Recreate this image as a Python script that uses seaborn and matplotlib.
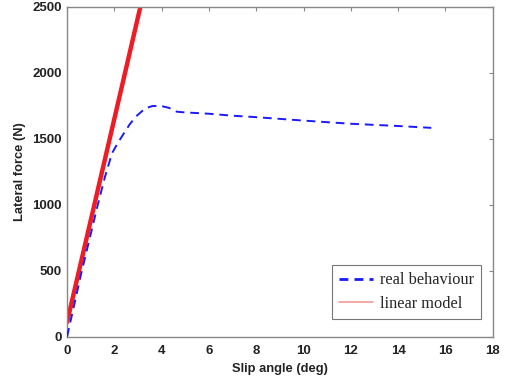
import matplotlib
matplotlib.use("Agg")
import matplotlib.pyplot as plt
import seaborn as sns
import pandas as pd
from matplotlib.lines import Line2D

# Data
real_slip = [0, 0.6, 1.3, 1.6, 1.9, 2.15, 2.4, 2.65, 2.9, 3.3, 3.6, 3.95, 4.3,
             4.65, 5.0, 6.0, 7.0, 8.0, 10.0, 12.0, 14.0, 15.4]
real_force = [0, 480, 1000, 1210, 1390, 1470, 1541, 1610, 1667, 1730, 1748,
              1750, 1735, 1705, 1700, 1690, 1675, 1664, 1638, 1614, 1597, 1583]
lin_slip = [0, 3.1]
lin_force = [110, 2500]

x_ticks = [0, 2, 4, 6, 8, 10, 12, 14, 16, 18]
y_ticks = [0, 500, 1000, 1500, 2000, 2500]
legend_labels = ["real behaviour", "linear model"]

sns.set_style("white")
plt.rcParams['font.family'] = ['Liberation Sans', 'DejaVu Sans']

fig = plt.figure(figsize=(5.08, 3.83), dpi=100)
ax = fig.add_axes([0.132, 0.121, 0.838, 0.861])

df_real = pd.DataFrame({"slip": real_slip, "force": real_force})
df_lin = pd.DataFrame({"slip": lin_slip, "force": lin_force})

sns.lineplot(data=df_lin, x="slip", y="force", ax=ax, color="#ee1c25",
             linewidth=3.2, sort=False, estimator=None, zorder=2)
sns.lineplot(data=df_real, x="slip", y="force", ax=ax, color="#1a1aff",
             linewidth=1.4, sort=False, estimator=None, zorder=3)
ax.lines[-1].set_dashes([4.5, 3])

ax.set_xlim(0, 18)
ax.set_ylim(0, 2500)
ax.set_xticks(x_ticks)
ax.set_yticks(y_ticks)
ax.set_xticklabels([str(t) for t in x_ticks], fontweight="bold", fontsize=9.5, color="#222222")
ax.set_yticklabels([str(t) for t in y_ticks], fontweight="bold", fontsize=9.5, color="#222222")
ax.set_xlabel("Slip angle (deg)", fontweight="bold", fontsize=9.3, color="#222222", labelpad=4)
ax.set_ylabel("Lateral force (N)", fontweight="bold", fontsize=9.3, color="#222222", labelpad=4)

for s in ax.spines.values():
    s.set_visible(True)
    s.set_color("#888888")
    s.set_linewidth(1.0)
ax.tick_params(direction="in", length=3, width=0.8, color="#888888",
               top=True, right=True, labeltop=False, labelright=False)
ax.tick_params(axis="x", pad=6)
ax.tick_params(axis="y", pad=4)

handles = [Line2D([0], [0], color="#1a1aff", linewidth=2.0, dashes=[3.2, 2.2]),
           Line2D([0], [0], color="#f49a9a", linewidth=1.2)]
leg = ax.legend(handles, legend_labels, loc="lower right",
                bbox_to_anchor=(0.973, 0.053), frameon=True, fancybox=False,
                prop={"family": "Liberation Serif", "size": 11.8},
                handlelength=2.1, handletextpad=0.4, borderpad=0.45,
                labelspacing=0.45, borderaxespad=0)
leg.get_frame().set_edgecolor("#555555")
leg.get_frame().set_linewidth(0.8)

fig.savefig("out.png", dpi=100)
